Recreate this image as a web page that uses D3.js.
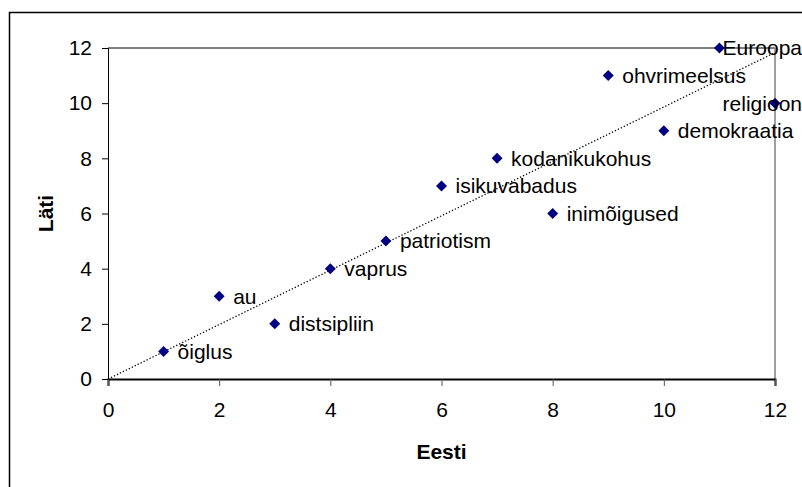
<!DOCTYPE html>
<html>
<head>
<meta charset="utf-8">
<script src="https://cdn.jsdelivr.net/npm/d3@7"></script>
<style>
  body { margin: 0; background: #fff; }
  svg text { font-family: "Liberation Sans", Arial, sans-serif; }
</style>
</head>
<body>
<svg id="chart"></svg>
<script>
// values
const terms = ['õiglus', 'au', 'distsipliin', 'vaprus', 'patriotism', 'isikuvabadus',
  'kodanikukohus', 'inimõigused', 'ohvrimeelsus', 'demokraatia', 'Euroopa', 'religioon'];
const eesti = [1, 2, 3, 4, 5, 6, 7, 8, 9, 10, 11, 12];
const lati = [1, 3, 2, 4, 5, 7, 8, 6, 11, 9, 12, 10];
const ticks = [0, 2, 4, 6, 8, 10, 12];

const width = 802;
const height = 487;
const margin = { top: 48, right: 27, bottom: 108, left: 108 };
const fontSize = 21;

const svg = d3.select('#chart')
  .attr('width', width)
  .attr('height', height);

// outer chart border (runs off the right and bottom edges)
svg.append('rect')
  .attr('x', 9.5).attr('y', 12.5)
  .attr('width', 820).attr('height', 500)
  .attr('fill', 'none')
  .attr('stroke', '#000')
  .attr('stroke-width', 1.5);

const x = d3.scaleLinear().domain([0, 12]).range([margin.left, width - margin.right]);
const y = d3.scaleLinear().domain([0, 12]).range([height - margin.bottom, margin.top]);

const points = terms.map((t, i) => ({ name: t, x: eesti[i], y: lati[i] }));

// plot area top line and right edge
svg.append('line')
  .attr('x1', x(0)).attr('x2', x(12))
  .attr('y1', y(12)).attr('y2', y(12))
  .attr('stroke', '#000').attr('stroke-width', 1);
svg.append('line')
  .attr('x1', x(12)).attr('x2', x(12))
  .attr('y1', y(12)).attr('y2', y(0))
  .attr('stroke', '#808080').attr('stroke-width', 1.5);

// y axis
const yAxis = svg.append('g')
  .attr('transform', `translate(${x(0)},0)`)
  .call(d3.axisLeft(y).tickValues(ticks).tickSize(6).tickPadding(10));
yAxis.select('.domain').attr('stroke', '#000');
yAxis.selectAll('text').attr('font-size', fontSize).attr('fill', '#000')
  .attr('font-family', '"Liberation Sans", Arial, sans-serif');

// x axis
const xAxis = svg.append('g')
  .attr('transform', `translate(0,${y(0)})`)
  .call(d3.axisBottom(x).tickValues(ticks).tickSize(7).tickPadding(16));
xAxis.select('.domain').attr('stroke', '#000').attr('stroke-width', 2);
xAxis.selectAll('.tick line').attr('stroke', '#555');
xAxis.selectAll('text').attr('font-size', fontSize).attr('fill', '#000')
  .attr('font-family', '"Liberation Sans", Arial, sans-serif');

// linear trendline through the origin (least squares)
const slope = d3.sum(points, d => d.x * d.y) / d3.sum(points, d => d.x * d.x);
svg.append('line')
  .attr('x1', x(0)).attr('y1', y(0))
  .attr('x2', x(12)).attr('y2', y(12 * slope))
  .attr('stroke', '#000')
  .attr('stroke-width', 1.3)
  .attr('stroke-dasharray', '1.3,2');

// markers
svg.selectAll('.pt')
  .data(points)
  .enter().append('path')
  .attr('class', 'pt')
  .attr('d', d3.symbol().type(d3.symbolSquare).size(60))
  .attr('transform', d => `translate(${x(d.x)},${y(d.y)}) rotate(45)`)
  .attr('fill', '#000080');

// data labels, kept inside the chart on the right
const labels = svg.selectAll('.lbl')
  .data(points)
  .enter().append('text')
  .attr('class', 'lbl')
  .attr('font-size', fontSize)
  .attr('fill', '#000')
  .attr('y', d => y(d.y))
  .attr('dy', '0.35em')
  .text(d => d.name);
labels.attr('x', function (d) {
  const w = this.getComputedTextLength();
  return Math.min(x(d.x) + 14, width - w);
});

// axis titles
svg.append('text')
  .attr('x', (x(0) + x(12)) / 2)
  .attr('y', 459)
  .attr('text-anchor', 'middle')
  .attr('font-size', fontSize)
  .attr('font-weight', 'bold')
  .text('Eesti');

svg.append('text')
  .attr('transform', `translate(53,${(y(0) + y(12)) / 2}) rotate(-90)`)
  .attr('text-anchor', 'middle')
  .attr('font-size', fontSize)
  .attr('font-weight', 'bold')
  .text('Läti');
</script>
</body>
</html>
